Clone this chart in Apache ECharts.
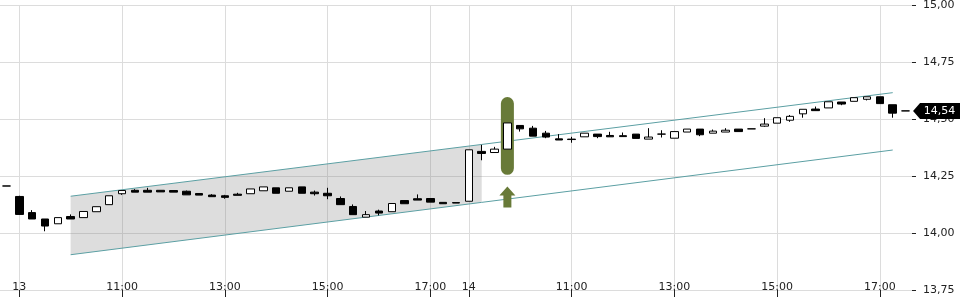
<!DOCTYPE html>
<html><head><meta charset="utf-8">
<script src="https://cdn.jsdelivr.net/npm/echarts@6/dist/echarts.min.js"></script>
<style>html,body{margin:0;padding:0;background:#fff}#c{width:960px;height:300px}</style>
</head><body><div id="c"></div>
<script>
const categories = [
 '12 17:30',
 '13 09:00','13 09:15','13 09:30','13 09:45','13 10:00','13 10:15','13 10:30','13 10:45',
 '13 11:00','13 11:15','13 11:30','13 11:45','13 12:00','13 12:15','13 12:30','13 12:45',
 '13 13:00','13 13:15','13 13:30','13 13:45','13 14:00','13 14:15','13 14:30','13 14:45',
 '13 15:00','13 15:15','13 15:30','13 15:45','13 16:00','13 16:15','13 16:30','13 16:45',
 '13 17:00','13 17:15','13 17:30',
 '14 09:00','14 09:15','14 09:30','14 09:45','14 10:00','14 10:15','14 10:30','14 10:45',
 '14 11:00','14 11:15','14 11:30','14 11:45','14 12:00','14 12:15','14 12:30','14 12:45',
 '14 13:00','14 13:15','14 13:30','14 13:45','14 14:00','14 14:15','14 14:30','14 14:45',
 '14 15:00','14 15:15','14 15:30','14 15:45','14 16:00','14 16:15','14 16:30','14 16:45',
 '14 17:00','14 17:15','14 17:30'
];
const opens = [14.207,
 14.161,14.090,14.062,14.041,14.073,14.068,14.094,14.125,14.173,14.188,14.188,14.188,14.187,14.184,14.174,14.167,
 14.164,14.171,14.173,14.186,14.199,14.184,14.203,14.180,14.175,14.152,14.117,14.070,14.097,14.094,14.143,14.151,
 14.152,14.135,14.134,
 14.140,14.359,14.354,14.369,14.473,14.461,14.439,14.414,14.413,14.423,14.435,14.429,14.428,14.435,14.413,14.435,
 14.417,14.444,14.457,14.439,14.444,14.457,14.458,14.470,14.483,14.496,14.524,14.545,14.550,14.576,14.579,14.588,
 14.599,14.564,14.537];
const closes = [14.207,
 14.082,14.062,14.031,14.068,14.062,14.095,14.116,14.164,14.187,14.180,14.180,14.181,14.180,14.168,14.167,14.160,
 14.157,14.166,14.194,14.203,14.175,14.199,14.175,14.173,14.164,14.125,14.081,14.081,14.088,14.130,14.129,14.145,
 14.136,14.129,14.132,
 14.366,14.350,14.369,14.484,14.458,14.426,14.422,14.409,14.411,14.439,14.424,14.423,14.424,14.416,14.422,14.435,
 14.446,14.457,14.432,14.448,14.452,14.446,14.458,14.479,14.507,14.513,14.544,14.538,14.577,14.567,14.595,14.599,
 14.569,14.527,14.537];
const lows = [14.207,
 14.081,14.062,14.008,14.041,14.062,14.068,14.094,14.125,14.168,14.180,14.180,14.181,14.180,14.168,14.167,14.160,
 14.151,14.166,14.173,14.186,14.175,14.184,14.175,14.165,14.149,14.125,14.081,14.070,14.078,14.094,14.129,14.145,
 14.136,14.129,14.132,
 14.140,14.320,14.354,14.369,14.446,14.426,14.417,14.409,14.397,14.423,14.417,14.423,14.424,14.416,14.413,14.420,
 14.417,14.444,14.426,14.439,14.444,14.446,14.458,14.467,14.483,14.489,14.507,14.538,14.550,14.562,14.579,14.583,
 14.569,14.507,14.537];
const highs = [14.207,
 14.164,14.101,14.062,14.068,14.082,14.095,14.116,14.164,14.187,14.193,14.199,14.188,14.187,14.187,14.174,14.171,
 14.168,14.177,14.194,14.203,14.199,14.199,14.203,14.187,14.199,14.161,14.126,14.097,14.103,14.130,14.143,14.170,
 14.152,14.135,14.134,
 14.366,14.388,14.379,14.484,14.473,14.471,14.449,14.435,14.423,14.439,14.435,14.445,14.442,14.435,14.461,14.452,
 14.446,14.457,14.457,14.455,14.461,14.457,14.458,14.505,14.507,14.519,14.544,14.556,14.577,14.576,14.595,14.599,
 14.599,14.564,14.537];

const tickIndex = [1, 9, 17, 25, 33, 36, 44, 52, 60, 68];
const tickText  = ['13','11:00','13:00','15:00','17:00','14','11:00','13:00','15:00','17:00'];

const channelIndex = [5, 69];
const channelUpper = [14.162, 14.617];
const channelLower = [13.905, 14.365];
const bandIndex = [5, 37];
const bandUpper = [14.162, 14.389];
const bandLower = [13.905, 14.135];

const signalIndex = 39;
const pillRange = [14.256, 14.598];
const arrowRange = [14.113, 14.205];

const lastIndex = 70;
const lastPrice = 14.537;

const FONT = 'DejaVu Sans';
const fmt = v => v.toFixed(2).replace('.', ',');
const isTick = i => tickIndex.indexOf(i) >= 0;

const chart = echarts.init(document.getElementById('c'), null, {renderer: 'canvas'});
chart.setOption({
  animation: false,
  grid: {left: 0, right: 48, top: 4, bottom: 10, containLabel: false},
  xAxis: {
    type: 'category', data: categories, boundaryGap: true,
    axisLine: {show: false},
    axisTick: {show: true, interval: isTick, alignWithLabel: true, length: 7, lineStyle: {color: '#222'}},
    axisLabel: {inside: true, interval: isTick, margin: -3, fontFamily: FONT, fontSize: 11, color: '#222',
      formatter: (v, i) => tickText[tickIndex.indexOf(i)]},
    splitLine: {show: true, interval: isTick, alignWithLabel: true, lineStyle: {color: '#dcdcdc'}}
  },
  yAxis: {
    type: 'value', position: 'right', min: 13.75, max: 15, interval: 0.25, scale: true,
    axisLine: {show: false},
    axisTick: {show: true, length: 4, lineStyle: {color: '#222'}},
    axisLabel: {margin: 11, fontFamily: FONT, fontSize: 11, color: '#222', formatter: fmt},
    splitLine: {show: true, lineStyle: {color: '#dcdcdc'}}
  },
  series: [
    {
      type: 'custom', silent: true, z: 1,
      data: [[bandIndex[0], bandUpper[0]]],
      renderItem: (p, api) => ({
        type: 'polygon',
        shape: {points: [
          api.coord([bandIndex[0], bandUpper[0]]), api.coord([bandIndex[1], bandUpper[1]]),
          api.coord([bandIndex[1], bandLower[1]]), api.coord([bandIndex[0], bandLower[0]])]},
        style: {fill: 'rgba(120,120,120,0.25)'}
      })
    },
    {
      type: 'line', silent: true, z: 2, symbol: 'none',
      data: [[channelIndex[0], channelUpper[0]], [channelIndex[1], channelUpper[1]]],
      lineStyle: {color: '#5b9fa3', width: 1}
    },
    {
      type: 'line', silent: true, z: 2, symbol: 'none',
      data: [[channelIndex[0], channelLower[0]], [channelIndex[1], channelLower[1]]],
      lineStyle: {color: '#5b9fa3', width: 1}
    },
    {
      type: 'custom', silent: true, z: 3,
      data: [[signalIndex, pillRange[1]]],
      renderItem: (p, api) => {
        const t = api.coord([signalIndex, pillRange[1]]);
        const b = api.coord([signalIndex, pillRange[0]]);
        const w = 13;
        return {type: 'rect', shape: {x: t[0] - w / 2, y: t[1], width: w, height: b[1] - t[1], r: w / 2},
          style: {fill: '#687a38'}};
      }
    },
    {
      type: 'custom', silent: true, z: 3,
      data: [[signalIndex, arrowRange[1]]],
      renderItem: (p, api) => {
        const t = api.coord([signalIndex, arrowRange[1]]);
        const b = api.coord([signalIndex, arrowRange[0]]);
        const x = t[0], hy = t[1] + 9;
        return {type: 'polygon', shape: {points: [
          [x, t[1]], [x + 8, hy], [x + 4, hy], [x + 4, b[1]], [x - 4, b[1]], [x - 4, hy], [x - 8, hy]]},
          style: {fill: '#687a38'}};
      }
    },
    {
      type: 'candlestick', z: 4, barWidth: 8,
      data: opens.map((o, i) => [o, closes[i], lows[i], highs[i]]),
      itemStyle: {color: '#ffffff', color0: '#000000', borderColor: '#000000', borderColor0: '#000000', borderWidth: 1},
      markPoint: {
        symbol: 'path://M0,8L7,0L47,0L47,16L7,16Z', symbolSize: [47, 16], symbolOffset: [31, 0],
        silent: true,
        itemStyle: {color: '#000'},
        label: {show: true, color: '#fff', fontFamily: FONT, fontSize: 11, offset: [3, 0],
          formatter: p => fmt(p.value)},
        data: [{coord: [lastIndex, lastPrice], value: lastPrice}]
      }
    }
  ]
});
</script></body></html>
